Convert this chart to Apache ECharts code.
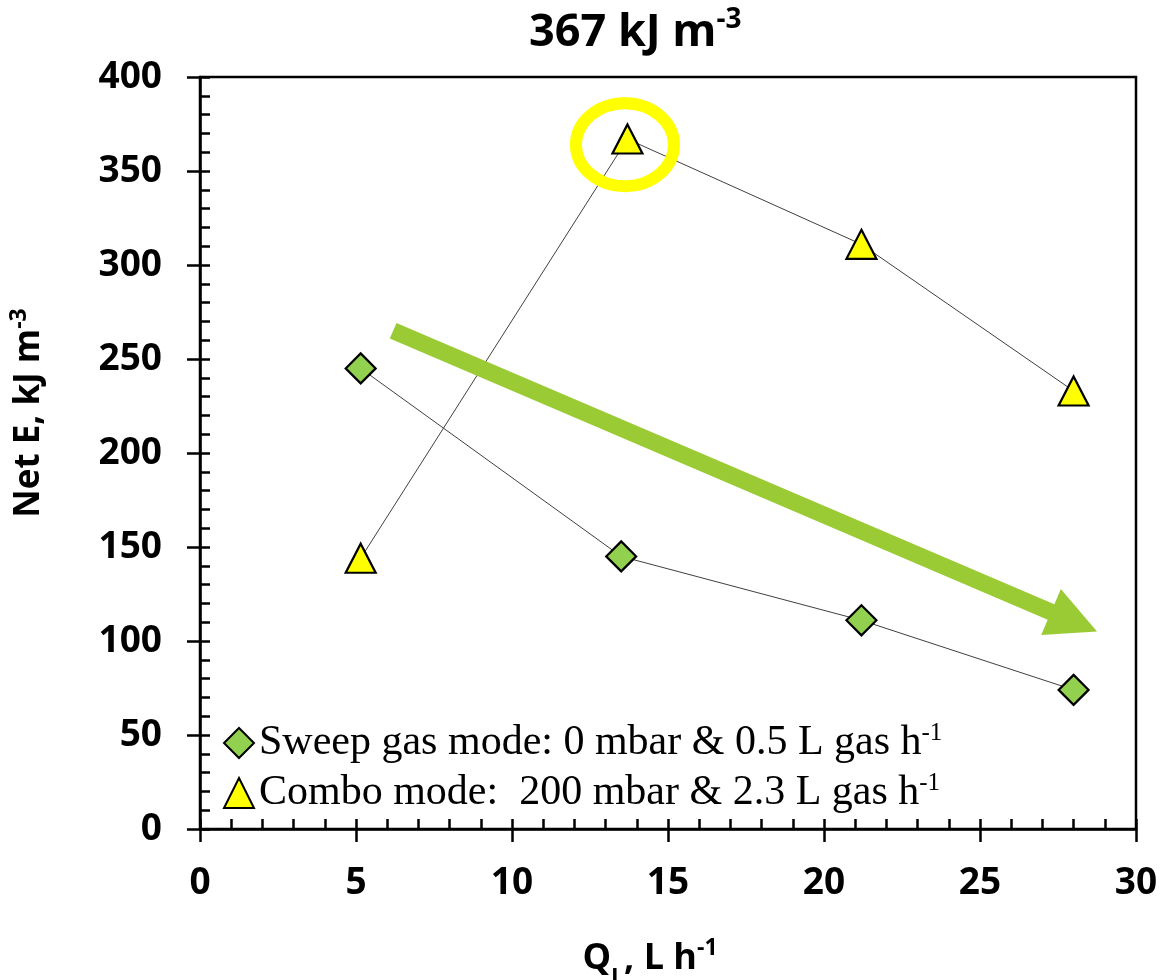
<!DOCTYPE html>
<html>
<head>
<meta charset="utf-8">
<script src="https://cdn.jsdelivr.net/npm/echarts@6/dist/echarts.min.js"></script>
<style>
html,body{margin:0;padding:0;background:#fff;overflow:hidden;}
#chart{width:1161px;height:980px;}
</style>
</head>
<body>
<div id="chart"></div>
<script>
// ---- data ----
const sweepX = [5.15, 13.5, 21.2, 28.0];
const sweepY = [245, 145, 111, 74];
const comboX = [5.15, 13.7, 21.2, 28.0];
const comboY = [144, 367, 311, 233];
const seriesNames = ['Sweep gas mode: 0 mbar & 0.5 L gas h', 'Combo mode:  200 mbar & 2.3 L gas h'];
const xRange = [0, 30, 5];
const yRange = [0, 400, 50];
// annotation anchors (data units)
const arrowFrom = [6.19, 265];
const arrowTo = [28.75, 105];
const highlightCenter = [13.62, 364];

const chart = echarts.init(document.getElementById('chart'), null, {renderer: 'canvas', width: 1161, height: 980});
const labelFont = 'Open Sans';
const axisLabelStyle = {fontFamily: labelFont, fontWeight: 'bold', fontSize: 37, color: '#000'};

function pairs(xs, ys){ return xs.map((x, i) => [x, ys[i]]); }

const baseX = {type: 'value', min: xRange[0], max: xRange[1], interval: xRange[2]};
const baseY = {type: 'value', min: yRange[0], max: yRange[1], interval: yRange[2]};

const option = {
  backgroundColor: '#fff',
  animation: false,
  title: {
    text: '{t|367 kJ m}{s|-3}',
    left: 524, top: 1,
    textStyle: {
      rich: {
        t: {fontFamily: labelFont, fontWeight: 'bold', fontSize: 45, color: '#000', lineHeight: 54},
        s: {fontFamily: labelFont, fontWeight: 'bold', fontSize: 28, color: '#000', verticalAlign: 'top', lineHeight: 54}
      }
    }
  },
  grid: {left: 200, right: 25, top: 77, bottom: 151, containLabel: false, outerBoundsMode: 'none', show: true, borderColor: '#000', borderWidth: 2.5, backgroundColor: 'transparent'},
  legend: {
    orient: 'vertical', left: 218, top: 716, itemWidth: 30, itemHeight: 30, itemGap: 7,
    data: [{name: seriesNames[0], icon: 'diamond'}, {name: seriesNames[1], icon: 'triangle'}],
    formatter: function(n){ return '{a|' + n + '}{s|-1}'; },
    textStyle: {
      rich: {
        a: {fontFamily: 'Liberation Serif', fontSize: 42, color: '#000', lineHeight: 44},
        s: {fontFamily: 'Liberation Serif', fontSize: 25, color: '#000', verticalAlign: 'top', lineHeight: 44}
      }
    }
  },
  xAxis: [
    Object.assign({}, baseX, {
      position: 'bottom',
      name: '{a|Q}{b|L}{a|, L h}{c|-1}',
      nameLocation: 'middle', nameGap: 108,
      nameTextStyle: {
        padding: [0, 36, 0, 0],
        rich: {
          a: {fontFamily: labelFont, fontWeight: 'bold', fontSize: 36, color: '#000', lineHeight: 44},
          b: {fontFamily: labelFont, fontWeight: 'bold', fontSize: 23, color: '#000', verticalAlign: 'bottom', lineHeight: 44, padding: [0, 0, -9, 0]},
          c: {fontFamily: labelFont, fontWeight: 'bold', fontSize: 23, color: '#000', verticalAlign: 'top', lineHeight: 44}
        }
      },
      axisLine: {show: true, lineStyle: {color: '#000', width: 2.5}},
      axisTick: {show: true, inside: true, length: 10, lineStyle: {color: '#000', width: 2.5}},
      minorTick: {show: true, splitNumber: 5, length: 10, lineStyle: {color: '#000', width: 2.5}},
      splitLine: {show: false},
      axisLabel: Object.assign({margin: 36}, axisLabelStyle)
    }),
    Object.assign({}, baseX, {
      position: 'bottom',
      axisLine: {show: false},
      axisTick: {show: true, inside: false, length: 13, lineStyle: {color: '#000', width: 2.5}},
      splitLine: {show: false},
      axisLabel: {show: false}
    })
  ],
  yAxis: [
    Object.assign({}, baseY, {
      position: 'left',
      name: '{a|Net E, kJ m}{c|-3}',
      nameLocation: 'middle', nameGap: 150,
      nameTextStyle: {
        padding: [0, 0, 0, 80],
        rich: {
          a: {fontFamily: labelFont, fontWeight: 'bold', fontSize: 35, color: '#000', lineHeight: 42},
          c: {fontFamily: labelFont, fontWeight: 'bold', fontSize: 23, color: '#000', verticalAlign: 'top', lineHeight: 42}
        }
      },
      axisLine: {show: true, lineStyle: {color: '#000', width: 2.5}},
      axisTick: {show: true, inside: true, length: 10, lineStyle: {color: '#000', width: 2.5}},
      minorTick: {show: true, splitNumber: 5, length: 10, lineStyle: {color: '#000', width: 2.5}},
      splitLine: {show: false},
      axisLabel: Object.assign({margin: 38}, axisLabelStyle)
    }),
    Object.assign({}, baseY, {
      position: 'left',
      axisLine: {show: false},
      axisTick: {show: true, inside: false, length: 13, lineStyle: {color: '#000', width: 2.5}},
      splitLine: {show: false},
      axisLabel: {show: false}
    })
  ],
  series: [
    {
      name: seriesNames[0], type: 'line', xAxisIndex: 0, yAxisIndex: 0,
      data: pairs(sweepX, sweepY),
      symbol: 'diamond', symbolSize: 30,
      lineStyle: {color: '#404040', width: 1},
      itemStyle: {color: '#92D050', borderColor: '#000', borderWidth: 2.2},
      z: 3
    },
    {
      name: seriesNames[1], type: 'line', xAxisIndex: 0, yAxisIndex: 0,
      data: pairs(comboX, comboY),
      symbol: 'triangle', symbolSize: [30, 29],
      lineStyle: {color: '#404040', width: 1},
      itemStyle: {color: '#FFFF00', borderColor: '#000', borderWidth: 2.2},
      z: 3
    }
  ]
};
chart.setOption(option);

// annotations positioned through the axes
const p0 = chart.convertToPixel({gridIndex: 0}, arrowFrom);
const p1 = chart.convertToPixel({gridIndex: 0}, arrowTo);
const dx = p1[0] - p0[0], dy = p1[1] - p0[1];
const L = Math.sqrt(dx * dx + dy * dy);
const ux = dx / L, uy = dy / L, nx = -uy, ny = ux;
const headLen = 50, headHalf = 25, shaftHalf = 8.5;
const bx = p1[0] - ux * headLen, by = p1[1] - uy * headLen;
const arrowPts = [
  [p0[0] + nx * shaftHalf, p0[1] + ny * shaftHalf],
  [bx + nx * shaftHalf, by + ny * shaftHalf],
  [bx + nx * headHalf, by + ny * headHalf],
  [p1[0], p1[1]],
  [bx - nx * headHalf, by - ny * headHalf],
  [bx - nx * shaftHalf, by - ny * shaftHalf],
  [p0[0] - nx * shaftHalf, p0[1] - ny * shaftHalf]
];
const hc = chart.convertToPixel({gridIndex: 0}, highlightCenter);

chart.setOption({
  graphic: [
    {type: 'polygon', shape: {points: arrowPts}, style: {fill: '#9ACB34', stroke: 'none'}, z: 100},
    {type: 'ellipse', shape: {cx: hc[0], cy: hc[1], rx: 49, ry: 41.5}, style: {fill: 'none', stroke: '#FFFF00', lineWidth: 12}, z: 100}
  ]
});
</script>
</body>
</html>
